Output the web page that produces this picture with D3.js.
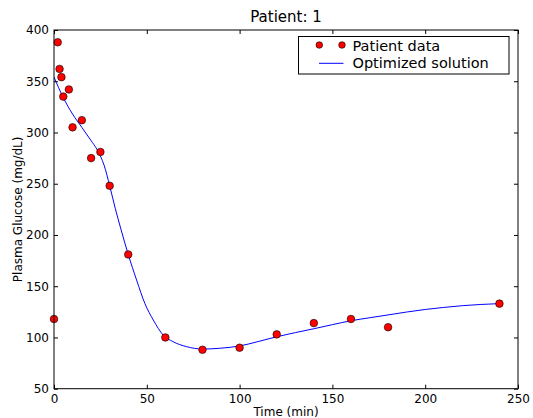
<!DOCTYPE html>
<html><head><meta charset="utf-8">
<script src="https://cdn.jsdelivr.net/npm/d3@7"></script>
<style>body{margin:0;background:#fff}svg{display:block}text{font-family:"DejaVu Sans",sans-serif}</style>
</head><body>
<svg id="c" width="533" height="418"></svg>
<script>
const dataTime = [0,2,3,4,5,8,10,15,20,25,30,40,60,80,100,120,140,160,180,240];
const dataGlucose = [118,388,362,354,335,342,305,312,275,281,248,181,100,88,90,103,114,118,110,133];
const fitTime = [0,5,10,15,20,23,25,27,30,33,36,40,44.5,49,53.5,59,64,71.5,80,89,95,100,110,120,130,140,150,160,170,180,190,200,210,220,230,240];
const fitGlucose = [354,334,318,305,292,284,277,268,248,226,206,181,156,133,117,102,96,91,88.7,89.4,90.4,91.7,96,100.7,104.7,108.5,112.5,116.3,119.2,122,124.8,127.3,129.3,131,132.2,133];
const xTicks = [0,50,100,150,200,250];
const yTicks = [50,100,150,200,250,300,350,400];
const titleText = "Patient: 1";
const xLabel = "Time (min)";
const yLabel = "Plasma Glucose (mg/dL)";
const legendLabels = ["Patient data","Optimized solution"];

const L=54,R=518,T=30,B=388.7;
const svg=d3.select("#c");
const x=d3.scaleLinear().domain([0,250]).range([L,R]);
const y=d3.scaleLinear().domain([50,400]).range([B,T]);

svg.append("clipPath").attr("id","clip").append("rect").attr("x",L).attr("y",T).attr("width",R-L).attr("height",B-T);

const line=d3.line().x((d,i)=>x(fitTime[i])).y(d=>y(d)).curve(d3.curveMonotoneX);
svg.append("path").datum(fitGlucose).attr("d",line).attr("fill","none").attr("stroke","#0000ff").attr("stroke-width",1).attr("clip-path","url(#clip)");

svg.append("g").selectAll("circle").data(dataGlucose).join("circle")
 .attr("cx",(d,i)=>x(dataTime[i])).attr("cy",d=>y(d)).attr("r",3.8)
 .attr("fill","#ff0000").attr("stroke","#000").attr("stroke-width",0.6);

const fs=12;
const xb=svg.append("g").attr("transform",`translate(0,${B})`).call(d3.axisBottom(x).tickValues(xTicks).tickSize(-4).tickPadding(6).tickFormat(d3.format("d")));
const xt=svg.append("g").attr("transform",`translate(0,${T})`).call(d3.axisTop(x).tickValues(xTicks).tickSize(-4).tickFormat(""));
const yl=svg.append("g").attr("transform",`translate(${L},0)`).call(d3.axisLeft(y).tickValues(yTicks).tickSize(-4).tickPadding(5).tickFormat(d3.format("d")));
const yr=svg.append("g").attr("transform",`translate(${R},0)`).call(d3.axisRight(y).tickValues(yTicks).tickSize(-4).tickFormat(""));
[xb,xt,yl,yr].forEach(g=>{g.selectAll(".domain").remove();g.selectAll("line").attr("stroke","#000").attr("stroke-width",1);g.selectAll("text").attr("font-family","DejaVu Sans").attr("font-size",fs).attr("fill","#000");});
svg.append("rect").attr("x",L).attr("y",T).attr("width",R-L).attr("height",B-T).attr("fill","none").attr("stroke","#000").attr("stroke-width",1);

svg.append("text").attr("x",(L+R)/2).attr("y",22).attr("text-anchor","middle").attr("font-size",15).text(titleText);
svg.append("text").attr("x",(L+R)/2).attr("y",416).attr("text-anchor","middle").attr("font-size",12).text(xLabel);
svg.append("text").attr("transform",`translate(22,${(T+B)/2}) rotate(-90)`).attr("text-anchor","middle").attr("font-size",12).text(yLabel);

const lg=svg.append("g");
lg.append("rect").attr("x",298.5).attr("y",36.5).attr("width",210.5).attr("height",37.5).attr("fill","#fff").attr("stroke","#000").attr("stroke-width",1);
[319.3,342].forEach(cx=>lg.append("circle").attr("cx",cx).attr("cy",45).attr("r",3.3).attr("fill","#ff0000").attr("stroke","#000").attr("stroke-width",0.6));
lg.append("line").attr("x1",319).attr("x2",343.5).attr("y1",63.3).attr("y2",63.3).attr("stroke","#0000ff").attr("stroke-width",1);
lg.append("text").attr("x",352.5).attr("y",50.5).attr("font-size",14.5).text(legendLabels[0]);
lg.append("text").attr("x",352.5).attr("y",68).attr("font-size",14.5).text(legendLabels[1]);
</script>
</body></html>
